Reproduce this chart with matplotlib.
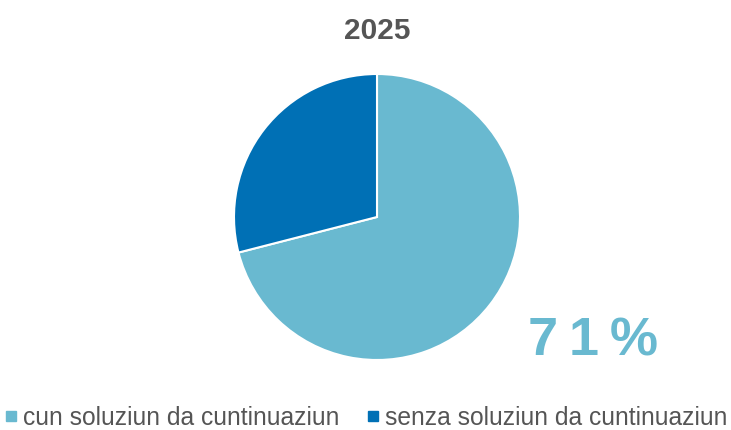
import matplotlib.pyplot as plt
from matplotlib.lines import Line2D

# Data
year = "2025"
labels = ["cun soluziun da cuntinuaziun", "senza soluziun da cuntinuaziun"]
shares = [71, 29]
colors = ["#69B9D0", "#0070B5"]

plt.rcParams["font.family"] = ["Liberation Sans", "DejaVu Sans"]

fig = plt.figure(figsize=(7.31, 4.30), dpi=100)

# pie axes: centre ~ (377, 217) px, radius ~ 143 px
r = 143
cx, cy = 377, 217
ax = fig.add_axes([(cx - r) / 731, (430 - cy - r) / 430, 2 * r / 731, 2 * r / 430])
ax.pie(
    shares,
    colors=colors,
    startangle=90,
    counterclock=False,
    radius=1.0,
    wedgeprops=dict(edgecolor="white", linewidth=1.5),
)
ax.set_xlim(-1.0, 1.0)
ax.set_ylim(-1.0, 1.0)
ax.set_aspect("equal")
ax.axis("off")

fig.text(377 / 731, 1 - 31 / 430, year, ha="center", va="center",
         fontsize=21.5, fontweight="bold", color="#555555")

# big share label, letter-spaced
big = "\u2009".join(f"{shares[0]}%")
fig.text(593 / 731, 1 - 342 / 430, big, ha="center", va="center",
         fontsize=39, fontweight="bold", color=colors[0])

handles = [
    Line2D([], [], marker="s", linestyle="none", markersize=7.5,
           markerfacecolor=c, markeredgecolor=c)
    for c in colors
]
fig.legend(handles, labels, loc="center", bbox_to_anchor=(0.5, 1 - 418 / 430),
           ncol=2, frameon=False, fontsize=17.7, labelcolor="#555555",
           handletextpad=0.2, columnspacing=1.05, handlelength=0.6)

fig.savefig("out.png", dpi=100)
